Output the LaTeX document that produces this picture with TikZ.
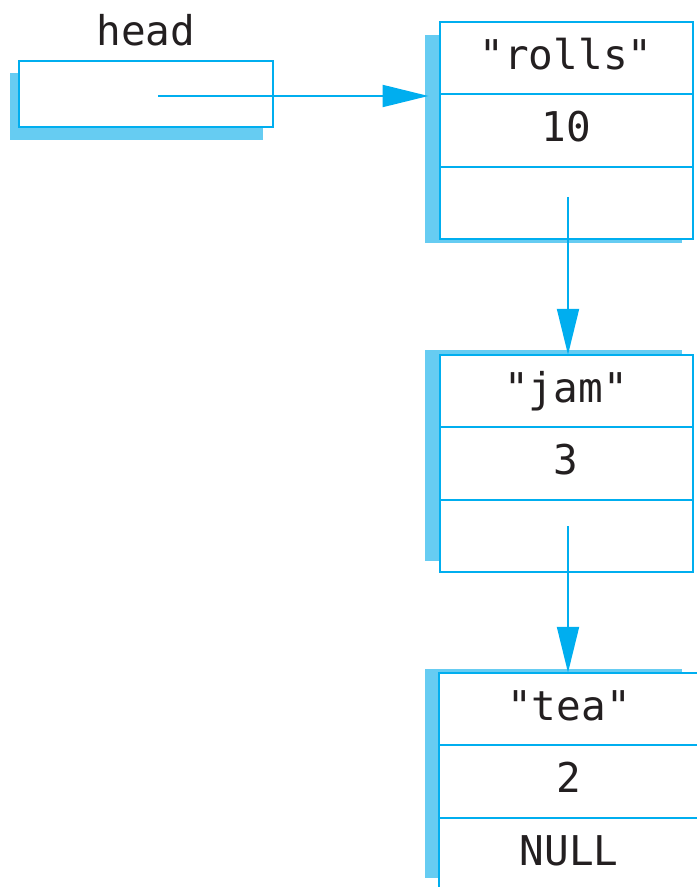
\documentclass[tikz,border=0pt]{standalone}
\usepackage{fontspec}
\setmonofont{DejaVu Sans Mono}
\usetikzlibrary{positioning}
\usetikzlibrary{arrows.meta}
\definecolor{linkblue}{RGB}{0,174,239}
\definecolor{shadeblue}{RGB}{102,204,242}
\definecolor{inkgrey}{RGB}{35,31,32}
\tikzset{
	cell/.style={rectangle, draw=linkblue, line width=1pt, fill=white,
		minimum width=126.5pt, minimum height=36.25pt, inner sep=0pt, outer sep=0pt,
		text=inkgrey, font=\ttfamily\fontsize{20.5}{24}\selectfont,
		text height=15.4pt, text depth=4.1pt},
	shadowbox/.style={fill=shadeblue},
	ptr/.style={draw=linkblue, line width=1pt, -{Triangle[length=23pt,width=11pt]}},
}

\begin{document}
\begin{tikzpicture}[x=0.5pt,y=-0.5pt]
		\useasboundingbox (0,0) rectangle (696,887);
		% shadows behind the boxes
		\fill[shadowbox] (10,73) rectangle (263,140);
		\fill[shadowbox] (425,35) rectangle (682,243);
		\fill[shadowbox] (425,350) rectangle (682,561);
		\fill[shadowbox] (425,669) rectangle (682,878);
		% head pointer
		\node[cell, minimum width=127pt, minimum height=33pt] (headbox) at (146,94) {};
		\node[cell, draw=none, fill=none] (headlabel) at (146,34) {head};
		% list nodes: key, count, next
		\node[cell] (rollskey) at (566,58) {"rolls"};
		\node[cell, below=0pt of rollskey] (rollscount) {10};
		\node[cell, below=0pt of rollscount] (rollsnext) {};
		\node[cell] (jamkey) at (566,391) {"jam"};
		\node[cell, below=0pt of jamkey] (jamcount) {3};
		\node[cell, below=0pt of jamcount] (jamnext) {};
		\node[cell, minimum width=130pt] (teakey) at (569,709) {"tea"};
		\node[cell, minimum width=130pt, below=0pt of teakey] (teacount) {2};
		\node[cell, minimum width=130pt, below=0pt of teacount] (teanext) {NULL};
		% links
		\coordinate (headptr) at (158,96);
		\coordinate (rollsptr) at (568,197);
		\coordinate (jamptr) at (568,526);
		\path [ptr, shorten >=5.5pt] (headptr) -- (headptr -| rollskey.west);
		\path [ptr] (rollsptr) -- (rollsptr |- jamkey.north);
		\path [ptr] (jamptr) -- (jamptr |- teakey.north);
	\end{tikzpicture}
\end{document}
